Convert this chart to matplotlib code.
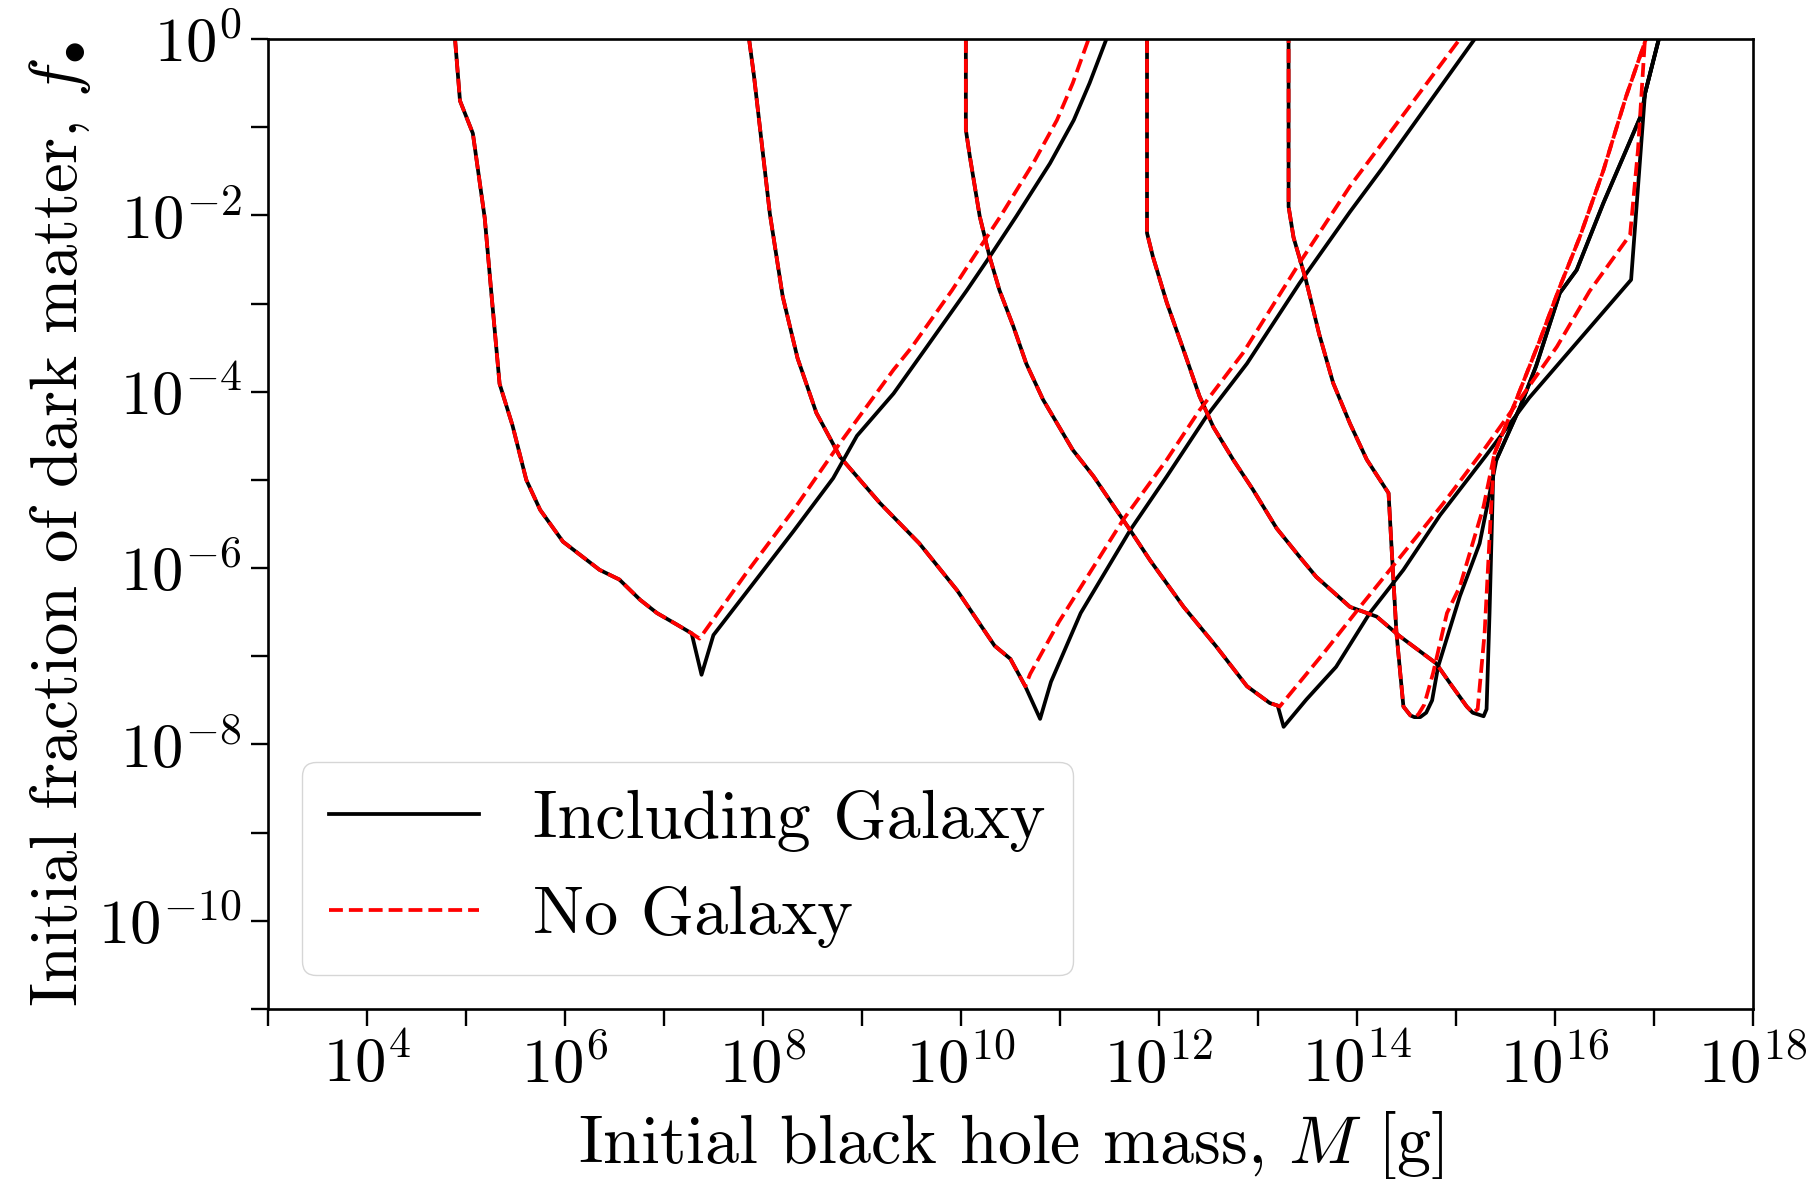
import numpy as np
import matplotlib
matplotlib.use("Agg")
import matplotlib.pyplot as plt
from matplotlib.ticker import FixedLocator, FuncFormatter, NullLocator

plt.rcParams['font.family'] = 'serif'
plt.rcParams['font.serif'] = ['cmr10']
plt.rcParams['mathtext.fontset'] = 'cm'
plt.rcParams['axes.unicode_minus'] = False
plt.rcParams['axes.formatter.use_mathtext'] = True

# ---------------- data (log10 M [g], log10 f) ----------------
# shared (left) branches, identical for both cases
left1_logM = [4.89, 4.94, 5.07, 5.19, 5.26, 5.34, 5.47, 5.61, 5.75, 5.98, 6.35, 6.55, 6.76, 6.93, 7.13, 7.28]
left1_logf = [0.0, -0.70, -1.07, -2.03, -2.92, -3.91, -4.38, -5.00, -5.34, -5.70, -6.02, -6.13, -6.36, -6.51, -6.64, -6.74]

left2_logM = [7.86, 7.91, 7.99, 8.07, 8.20, 8.35, 8.54, 8.78, 9.18, 9.58, 9.96, 10.34, 10.50, 10.65]
left2_logf = [0.0, -0.42, -1.20, -1.98, -2.92, -3.62, -4.24, -4.74, -5.26, -5.72, -6.25, -6.88, -7.03, -7.34]

left3_logM = [10.05, 10.05, 10.09, 10.19, 10.29, 10.39, 10.53, 10.66, 10.83, 11.13, 11.34, 11.57, 11.71,
              11.91, 12.25, 12.58, 12.89, 13.12, 13.20]
left3_logf = [0.0, -1.03, -1.33, -2.01, -2.47, -2.85, -3.26, -3.68, -4.09, -4.66, -4.96, -5.34, -5.57,
              -5.91, -6.44, -6.89, -7.34, -7.53, -7.56]

left4_logM = [11.88, 11.88, 11.94, 12.08, 12.25, 12.41, 12.55, 12.75, 12.95, 13.19, 13.42, 13.59, 13.93,
              14.20, 14.43, 14.80, 14.95, 15.11, 15.17]
left4_logf = [0.0, -2.20, -2.47, -2.99, -3.53, -4.05, -4.40, -4.77, -5.11, -5.55, -5.87, -6.10, -6.44,
              -6.55, -6.77, -7.08, -7.32, -7.57, -7.64]

left5_logM = [13.31, 13.31, 13.36, 13.48, 13.62, 13.76, 13.93, 14.10, 14.32, 14.35, 14.40, 14.47, 14.54, 14.58]
left5_logf = [0.0, -1.90, -2.25, -2.71, -3.35, -3.90, -4.36, -4.77, -5.15, -5.76, -6.74, -7.57, -7.67, -7.69]

# "Including Galaxy" right branches
gal1_logM = [7.38, 7.50, 7.83, 8.31, 8.71, 8.95, 9.32, 9.65, 10.06, 10.29, 10.56, 10.90, 11.14, 11.30, 11.47]
gal1_logf = [-7.21, -6.76, -6.28, -5.58, -4.98, -4.50, -4.02, -3.50, -2.85, -2.47, -2.01, -1.41, -0.92, -0.50, 0.0]

gal2_logM = [10.80, 10.91, 11.21, 11.71, 12.08, 12.48, 12.89, 13.42, 13.93, 14.26, 15.19]
gal2_logf = [-7.71, -7.29, -6.51, -5.57, -4.96, -4.28, -3.68, -2.77, -1.96, -1.46, 0.0]

gal3_logM = [13.26, 13.49, 13.79, 14.13, 14.47, 14.84, 15.30, 15.74, 16.77, 16.91, 17.05]
gal3_logf = [-7.80, -7.49, -7.12, -6.51, -6.02, -5.40, -4.73, -4.07, -2.73, -0.62, 0.0]

gal4_logM = [15.28, 15.31, 15.34, 15.38]
gal4_logf = [-7.68, -7.60, -6.51, -4.81]

gal5_logM = [14.64, 14.70, 14.76, 14.82, 15.04, 15.24]
gal5_logf = [-7.69, -7.64, -7.50, -7.12, -6.32, -5.72]

gal45_logM = [15.41, 15.65, 15.81, 16.05, 16.22, 16.49, 16.72, 16.88, 16.91, 17.05]
gal45_logf = [-4.77, -4.17, -3.71, -2.88, -2.62, -1.86, -1.26, -0.84, -0.62, 0.0]

# "No Galaxy" right branches
nog1_logM = [7.36, 7.83, 8.31, 8.78, 9.32, 9.50, 9.91, 10.13, 10.40, 10.73, 10.97, 11.13, 11.29]
nog1_logf = [-6.80, -6.06, -5.34, -4.58, -3.75, -3.50, -2.85, -2.47, -2.01, -1.41, -0.92, -0.50, 0.0]

nog2_logM = [10.70, 10.99, 11.64, 12.08, 12.41, 12.85, 13.42, 13.93, 15.04]
nog2_logf = [-7.20, -6.61, -5.45, -4.77, -4.21, -3.56, -2.54, -1.67, 0.0]

nog3_logM = [13.22, 13.66, 14.06, 14.47, 14.87, 15.30, 15.70, 16.02, 16.35, 16.76, 16.84, 16.91]
nog3_logf = [-7.57, -6.97, -6.40, -5.83, -5.27, -4.63, -4.00, -3.49, -2.86, -2.22, -1.25, 0.0]

nog4_logM = [15.22, 15.29, 15.36]
nog4_logf = [-7.60, -6.74, -5.23]

nog5_logM = [14.62, 14.68, 14.77, 14.91, 15.04, 15.28]
nog5_logf = [-7.66, -7.55, -7.19, -6.51, -6.21, -5.30]

nog45_logM = [15.39, 15.61, 15.85, 16.05, 16.25, 16.49, 16.72, 16.92]
nog45_logf = [-4.70, -4.09, -3.41, -2.81, -2.25, -1.49, -0.65, 0.0]

x_tick_exp = list(range(3, 19))
y_tick_exp = list(range(-11, 1))

# ---------------- assemble curves ----------------
lefts = [(left1_logM, left1_logf), (left2_logM, left2_logf), (left3_logM, left3_logf),
         (left4_logM, left4_logf), (left5_logM, left5_logf)]
gal = [(gal1_logM, gal1_logf), (gal2_logM, gal2_logf), (gal3_logM, gal3_logf),
       (gal4_logM + gal45_logM, gal4_logf + gal45_logf),
       (gal5_logM + gal45_logM, gal5_logf + gal45_logf)]
nog = [(nog1_logM, nog1_logf), (nog2_logM, nog2_logf), (nog3_logM, nog3_logf),
       (nog4_logM + nog45_logM, nog4_logf + nog45_logf),
       (nog5_logM + nog45_logM, nog5_logf + nog45_logf)]
# dash phase offsets (two overlapping dashed curves in the top right look solid)
red_dash_offsets = [0, 0, 0, 0, 2.65]

fig = plt.figure(figsize=(18.14, 11.79), dpi=100)
ax = fig.add_axes([0.1477, 0.1442, 0.8186, 0.8227])

LW = 2.7
black_handle = None
for (lm, lf), (gm, gf) in zip(lefts, gal):
    m = 10.0 ** np.array(lm + gm)
    f = 10.0 ** np.array(lf + gf)
    h, = ax.plot(m, f, color='black', lw=LW)
    black_handle = black_handle or h
red_handle = None
for (lm, lf), (nm, nf), off in zip(lefts, nog, red_dash_offsets):
    m = 10.0 ** np.array(lm + nm)
    f = 10.0 ** np.array(lf + nf)
    h, = ax.plot(m, f, color='red', lw=LW, ls=(off, (3.7, 1.6)))
    red_handle = red_handle or h

ax.set_xscale('log')
ax.set_yscale('log')
ax.set_xlim(10.0 ** x_tick_exp[0], 10.0 ** x_tick_exp[-1])
ax.set_ylim(10.0 ** y_tick_exp[0], 10.0 ** y_tick_exp[-1])

ax.xaxis.set_major_locator(FixedLocator(10.0 ** np.array(x_tick_exp, dtype=float)))
ax.yaxis.set_major_locator(FixedLocator(10.0 ** np.array(y_tick_exp, dtype=float)))
ax.xaxis.set_minor_locator(NullLocator())
ax.yaxis.set_minor_locator(NullLocator())


def fmt_x(v, pos):
    e = int(round(np.log10(v)))
    return r'$10^{%d}$' % e if (e % 2 == 0 and e >= 4) else ''


def fmt_y(v, pos):
    e = int(round(np.log10(v)))
    return r'$10^{%d}$' % e if e % 2 == 0 else ''


ax.xaxis.set_major_formatter(FuncFormatter(fmt_x))
ax.yaxis.set_major_formatter(FuncFormatter(fmt_y))
ax.tick_params(which='major', direction='out', length=12, width=1.7, labelsize=45, pad=7)
for s in ax.spines.values():
    s.set_linewidth(1.9)

ax.set_xlabel(r'Initial black hole mass, $M$ [g]', fontsize=49, labelpad=10)
ax.set_ylabel(r'Initial fraction of dark matter, $f_{\bullet}$', fontsize=48, labelpad=4)

ax.legend([black_handle, red_handle], ['Including Galaxy', 'No Galaxy'], loc='lower left',
          fontsize=49, handlelength=2.2, framealpha=0.8, edgecolor='0.8', fancybox=True,
          borderaxespad=0.5)

fig.savefig('out.png', dpi=100)
